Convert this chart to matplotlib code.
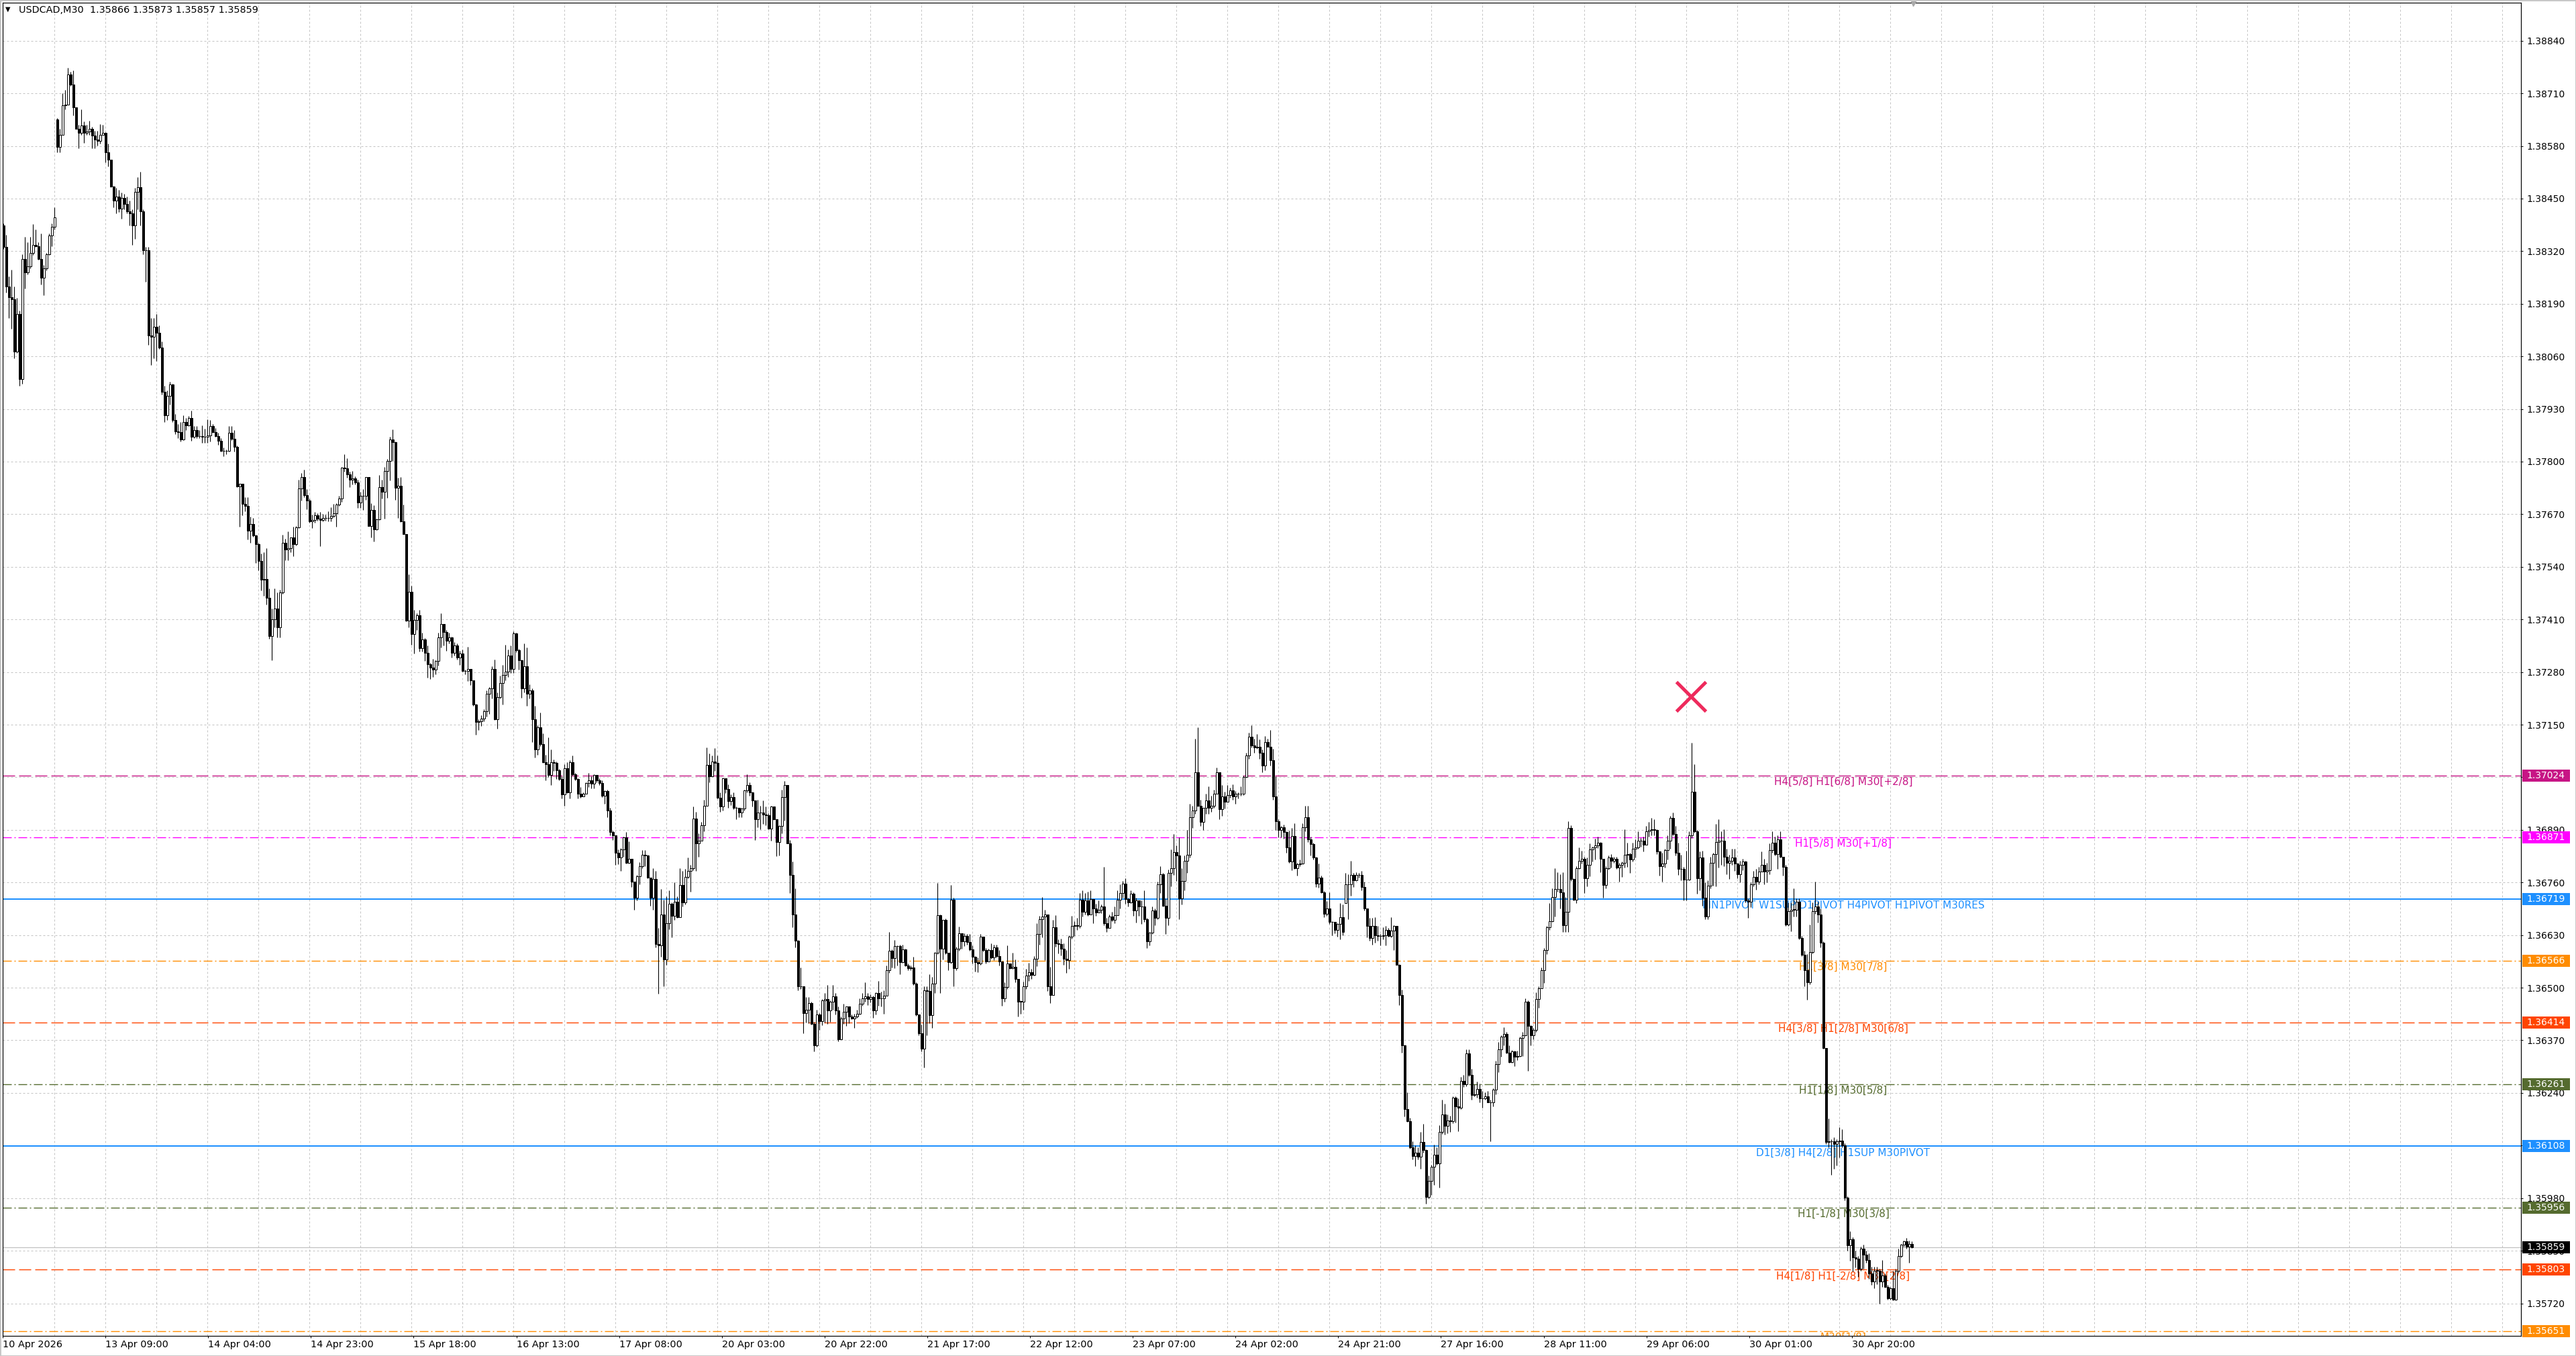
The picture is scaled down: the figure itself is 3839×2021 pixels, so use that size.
import numpy as np
import matplotlib
matplotlib.use("Agg")
from matplotlib import pyplot as plt
from matplotlib.patches import Rectangle
from matplotlib.transforms import blended_transform_factory

plt.rcParams['font.family'] = ['DejaVu Sans']
plt.rcParams['lines.scale_dashes'] = False

W, H, DPI = 3839, 2021, 100
PX = 72.0 / DPI          # one screen pixel in points

# prices are stored in points above BASE (1 point = 0.00001)
BASE = 1.35
POINT = 0.00001

# ---- USDCAD M30 candles ----
closes = [
    3330, 3233, 3206, 3202, 3072, 3165, 3004, 3301, 3267, 3282,
    3316, 3335, 3332, 3301, 3254, 3277, 3313, 3359, 3381, 3403,
    3578, 3608, 3680, 3682, 3756, 3731, 3676, 3622, 3612, 3630,
    3612, 3615, 3622, 3605, 3595, 3593, 3608, 3612, 3564, 3546,
    3479, 3445, 3455, 3425, 3452, 3437, 3418, 3413, 3384, 3466,
    3478, 3418, 3322, 3322, 3111, 3108, 3133, 3118, 3082, 2972,
    2914, 2962, 2990, 2902, 2875, 2873, 2855, 2897, 2890, 2907,
    2861, 2878, 2863, 2863, 2861, 2861, 2865, 2888, 2873, 2863,
    2851, 2826, 2826, 2826, 2871, 2856, 2836, 2739, 2746, 2695,
    2690, 2630, 2646, 2618, 2596, 2554, 2508, 2510, 2464, 2369,
    2411, 2437, 2391, 2476, 2599, 2583, 2586, 2612, 2596, 2637,
    2734, 2761, 2717, 2703, 2652, 2656, 2667, 2659, 2656, 2661,
    2661, 2661, 2666, 2672, 2694, 2709, 2785, 2783, 2768, 2756,
    2758, 2749, 2699, 2715, 2715, 2761, 2641, 2680, 2633, 2658,
    2737, 2726, 2777, 2802, 2855, 2848, 2735, 2741, 2652, 2621,
    2407, 2478, 2374, 2408, 2421, 2339, 2361, 2328, 2300, 2291,
    2286, 2307, 2366, 2399, 2379, 2358, 2366, 2328, 2345, 2315,
    2326, 2283, 2283, 2288, 2259, 2199, 2156, 2159, 2165, 2183,
    2226, 2239, 2288, 2163, 2218, 2253, 2273, 2281, 2320, 2288,
    2375, 2334, 2310, 2239, 2294, 2227, 2235, 2164, 2088, 2144,
    2102, 2057, 2053, 2026, 2057, 2055, 2038, 2015, 1977, 2043,
    1983, 2057, 2027, 2015, 1980, 1972, 1980, 2005, 2012, 2004,
    2026, 2013, 2005, 1975, 1986, 1938, 1884, 1876, 1833, 1822,
    1841, 1872, 1808, 1818, 1762, 1723, 1775, 1801, 1828, 1827,
    1772, 1723, 1768, 1608, 1605, 1681, 1569, 1660, 1708, 1677,
    1713, 1674, 1754, 1710, 1774, 1789, 1795, 1918, 1856, 1864,
    1902, 1949, 2050, 2022, 2058, 2056, 1970, 1947, 2017, 1991,
    1961, 1971, 1944, 1944, 1932, 1942, 1987, 2001, 1983, 1962,
    1917, 1932, 1932, 1928, 1926, 1893, 1948, 1917, 1860, 1899,
    1971, 2001, 1857, 1778, 1681, 1616, 1503, 1503, 1437, 1446,
    1462, 1410, 1357, 1433, 1417, 1468, 1472, 1443, 1466, 1479,
    1443, 1373, 1424, 1441, 1453, 1428, 1423, 1428, 1436, 1460,
    1473, 1479, 1472, 1477, 1443, 1487, 1473, 1473, 1481, 1544,
    1591, 1573, 1603, 1603, 1563, 1594, 1554, 1549, 1550, 1510,
    1433, 1388, 1349, 1494, 1492, 1432, 1510, 1586, 1679, 1597,
    1667, 1586, 1563, 1717, 1549, 1597, 1634, 1614, 1627, 1613,
    1595, 1576, 1563, 1560, 1626, 1593, 1564, 1593, 1574, 1600,
    1578, 1564, 1473, 1502, 1560, 1549, 1551, 1521, 1466, 1466,
    1504, 1530, 1538, 1532, 1572, 1632, 1670, 1676, 1680, 1503,
    1482, 1650, 1610, 1608, 1596, 1572, 1568, 1626, 1652, 1654,
    1652, 1717, 1687, 1715, 1680, 1719, 1695, 1685, 1693, 1700,
    1659, 1647, 1676, 1667, 1679, 1717, 1734, 1757, 1719, 1711,
    1733, 1691, 1715, 1701, 1701, 1670, 1615, 1636, 1691, 1672,
    1755, 1781, 1702, 1672, 1783, 1796, 1835, 1827, 1720, 1763,
    1813, 1828, 1922, 1938, 2032, 1949, 1910, 1944, 1962, 1944,
    1949, 1979, 2032, 1941, 1973, 1960, 1976, 1987, 1973, 1980,
    1979, 1980, 2021, 2073, 2121, 2098, 2094, 2095, 2080, 2049,
    2107, 2096, 2062, 1972, 1912, 1890, 1896, 1884, 1847, 1811,
    1875, 1796, 1805, 1807, 1897, 1921, 1866, 1855, 1821, 1757,
    1772, 1735, 1682, 1695, 1662, 1662, 1643, 1657, 1674, 1637,
    1755, 1756, 1779, 1765, 1779, 1779, 1748, 1696, 1652, 1623,
    1652, 1629, 1628, 1628, 1629, 1642, 1628, 1641, 1652, 1557,
    1482, 1357, 1200, 1170, 1105, 1084, 1093, 1082, 1119, 1099,
    983, 1023, 1057, 1088, 1065, 1144, 1187, 1158, 1171, 1170,
    1228, 1206, 1204, 1270, 1262, 1337, 1285, 1234, 1236, 1250,
    1226, 1226, 1231, 1217, 1217, 1248, 1311, 1348, 1379, 1385,
    1339, 1316, 1342, 1329, 1331, 1375, 1383, 1466, 1405, 1383,
    1396, 1472, 1499, 1543, 1593, 1649, 1665, 1724, 1744, 1744,
    1735, 1655, 1687, 1895, 1768, 1718, 1796, 1813, 1819, 1770,
    1803, 1842, 1847, 1851, 1859, 1819, 1754, 1796, 1822, 1814,
    1819, 1797, 1804, 1809, 1828, 1830, 1817, 1843, 1846, 1863,
    1863, 1853, 1886, 1889, 1892, 1889, 1836, 1801, 1807, 1840,
    1863, 1919, 1880, 1833, 1794, 1794, 1767, 1767, 1876, 1984,
    1886, 1771, 1821, 1722, 1676, 1752, 1809, 1830, 1860, 1863,
    1863, 1824, 1809, 1814, 1821, 1807, 1781, 1804, 1811, 1715,
    1712, 1755, 1774, 1762, 1787, 1804, 1787, 1790, 1840, 1858,
    1830, 1866, 1824, 1799, 1656, 1689, 1693, 1693, 1712, 1622,
    1581, 1543, 1514, 1588, 1689, 1701, 1681, 1612, 1351, 1118,
    1120, 1120, 1113, 1120, 1122, 1111, 981, 863, 879, 833,
    830, 806, 855, 840, 827, 794, 774, 801, 801, 774,
    788, 761, 732, 757, 729, 801, 837, 865, 873, 860,
    866, 859,
]

highs = [
    3389, 3361, 3257, 3274, 3233, 3204, 3173, 3313, 3355, 3342,
    3355, 3387, 3374, 3342, 3364, 3286, 3316, 3364, 3389, 3428,
    3648, 3622, 3710, 3719, 3773, 3763, 3766, 3673, 3632, 3671,
    3640, 3632, 3642, 3627, 3617, 3617, 3634, 3632, 3614, 3585,
    3546, 3481, 3476, 3471, 3464, 3462, 3455, 3445, 3423, 3476,
    3503, 3517, 3423, 3330, 3330, 3155, 3155, 3165, 3136, 3097,
    2988, 2975, 2998, 2993, 2917, 2892, 2897, 2914, 2907, 2912,
    2926, 2888, 2888, 2878, 2890, 2881, 2904, 2902, 2892, 2883,
    2871, 2858, 2834, 2829, 2888, 2888, 2878, 2839, 2746, 2746,
    2712, 2712, 2664, 2661, 2620, 2599, 2573, 2576, 2586, 2486,
    2437, 2486, 2476, 2484, 2620, 2610, 2628, 2612, 2639, 2641,
    2756, 2771, 2780, 2732, 2708, 2669, 2676, 2673, 2676, 2671,
    2669, 2678, 2688, 2696, 2697, 2715, 2786, 2818, 2808, 2775,
    2777, 2764, 2756, 2726, 2732, 2762, 2761, 2697, 2692, 2659,
    2767, 2755, 2786, 2807, 2862, 2880, 2850, 2760, 2761, 2694,
    2621, 2521, 2493, 2434, 2426, 2434, 2377, 2364, 2345, 2302,
    2313, 2310, 2377, 2426, 2385, 2383, 2377, 2367, 2354, 2351,
    2332, 2335, 2286, 2343, 2288, 2260, 2201, 2164, 2173, 2188,
    2234, 2243, 2294, 2311, 2229, 2271, 2297, 2347, 2335, 2345,
    2380, 2377, 2337, 2311, 2351, 2340, 2250, 2239, 2197, 2148,
    2180, 2129, 2075, 2118, 2088, 2064, 2059, 2040, 2023, 2053,
    2057, 2062, 2074, 2031, 2018, 1996, 1983, 2007, 2031, 2023,
    2027, 2026, 2017, 2013, 1988, 1990, 1944, 1888, 1872, 1841,
    1845, 1873, 1885, 1861, 1819, 1762, 1778, 1810, 1840, 1840,
    1828, 1772, 1795, 1788, 1647, 1744, 1717, 1725, 1740, 1711,
    1761, 1725, 1795, 1789, 1794, 1822, 1804, 1947, 1934, 1882,
    1909, 1965, 2094, 2079, 2074, 2092, 2074, 1982, 2019, 2017,
    2002, 1977, 1982, 1947, 1945, 1945, 1989, 2028, 2008, 1985,
    1954, 1965, 1949, 1962, 1947, 1931, 1949, 1948, 1917, 1901,
    1989, 2011, 1982, 1865, 1812, 1745, 1617, 1550, 1500, 1477,
    1477, 1466, 1415, 1445, 1437, 1472, 1487, 1506, 1469, 1506,
    1487, 1453, 1428, 1460, 1454, 1453, 1434, 1436, 1445, 1474,
    1487, 1513, 1487, 1483, 1480, 1489, 1517, 1490, 1494, 1555,
    1637, 1595, 1618, 1605, 1607, 1607, 1597, 1559, 1554, 1576,
    1513, 1434, 1409, 1503, 1504, 1534, 1526, 1588, 1759, 1681,
    1668, 1671, 1586, 1754, 1723, 1601, 1651, 1634, 1634, 1632,
    1632, 1604, 1578, 1575, 1632, 1626, 1598, 1597, 1610, 1607,
    1606, 1593, 1565, 1513, 1604, 1558, 1587, 1569, 1521, 1468,
    1515, 1546, 1561, 1546, 1578, 1659, 1678, 1724, 1693, 1681,
    1551, 1668, 1679, 1619, 1621, 1610, 1593, 1629, 1678, 1665,
    1672, 1734, 1741, 1734, 1737, 1740, 1716, 1707, 1715, 1706,
    1798, 1672, 1680, 1687, 1700, 1740, 1755, 1764, 1770, 1723,
    1740, 1735, 1723, 1713, 1716, 1741, 1673, 1637, 1701, 1695,
    1762, 1800, 1784, 1720, 1792, 1842, 1879, 1851, 1871, 1795,
    1827, 1890, 1954, 1950, 2115, 2143, 1964, 1945, 1980, 1997,
    1975, 1990, 2044, 2023, 2000, 1984, 2000, 1994, 2002, 1986,
    1983, 1997, 2024, 2081, 2130, 2148, 2115, 2127, 2113, 2088,
    2122, 2115, 2137, 2091, 2023, 1917, 1899, 1903, 1886, 1888,
    1895, 1906, 1809, 1816, 1906, 1950, 1950, 1873, 1859, 1824,
    1807, 1777, 1739, 1714, 1735, 1665, 1662, 1659, 1709, 1706,
    1783, 1781, 1813, 1783, 1785, 1783, 1788, 1762, 1696, 1672,
    1672, 1675, 1652, 1632, 1650, 1652, 1647, 1674, 1655, 1649,
    1558, 1495, 1359, 1241, 1178, 1121, 1110, 1106, 1143, 1164,
    1101, 1036, 1062, 1112, 1105, 1160, 1223, 1213, 1187, 1183,
    1232, 1231, 1226, 1280, 1285, 1347, 1348, 1300, 1262, 1268,
    1263, 1244, 1242, 1244, 1223, 1252, 1320, 1366, 1383, 1403,
    1390, 1357, 1346, 1344, 1344, 1379, 1390, 1473, 1468, 1407,
    1400, 1488, 1503, 1550, 1598, 1652, 1709, 1746, 1796, 1785,
    1781, 1786, 1724, 1912, 1901, 1770, 1800, 1847, 1838, 1824,
    1822, 1857, 1849, 1868, 1873, 1860, 1819, 1801, 1826, 1830,
    1824, 1824, 1809, 1811, 1892, 1858, 1833, 1858, 1866, 1886,
    1870, 1873, 1899, 1909, 1919, 1917, 1892, 1838, 1833, 1843,
    1876, 1925, 1932, 1899, 1858, 1828, 1799, 1838, 1887, 2106,
    2053, 1889, 1836, 1838, 1760, 1765, 1824, 1833, 1905, 1917,
    1887, 1892, 1843, 1828, 1843, 1843, 1809, 1814, 1819, 1814,
    1720, 1760, 1789, 1794, 1799, 1836, 1819, 1809, 1856, 1887,
    1873, 1876, 1887, 1824, 1804, 1710, 1710, 1745, 1720, 1720,
    1627, 1592, 1583, 1656, 1710, 1762, 1712, 1696, 1614, 1351,
    1177, 1125, 1130, 1125, 1155, 1150, 1116, 985, 899, 884,
    850, 837, 860, 865, 850, 843, 811, 811, 811, 806,
    827, 794, 766, 761, 801, 806, 855, 867, 875, 882,
    875, 873,
]

lows = [
    3325, 3218, 3155, 3128, 3055, 3068, 2988, 2992, 3228, 3262,
    3277, 3311, 3330, 3299, 3238, 3211, 3272, 3311, 3332, 3374,
    3564, 3564, 3608, 3671, 3682, 3729, 3656, 3622, 3575, 3608,
    3588, 3608, 3608, 3575, 3575, 3581, 3585, 3608, 3539, 3530,
    3478, 3429, 3413, 3416, 3400, 3423, 3413, 3384, 3335, 3350,
    3423, 3384, 3313, 3245, 3089, 3038, 3056, 3048, 3079, 2965,
    2897, 2902, 2941, 2897, 2868, 2858, 2849, 2853, 2878, 2888,
    2852, 2858, 2858, 2858, 2846, 2846, 2846, 2849, 2871, 2861,
    2842, 2824, 2813, 2819, 2824, 2853, 2824, 2737, 2639, 2667,
    2678, 2608, 2600, 2615, 2550, 2532, 2482, 2469, 2447, 2362,
    2309, 2391, 2365, 2365, 2474, 2557, 2557, 2576, 2566, 2593,
    2635, 2703, 2712, 2683, 2649, 2635, 2649, 2654, 2591, 2652,
    2654, 2652, 2652, 2662, 2639, 2691, 2701, 2775, 2760, 2737,
    2743, 2743, 2686, 2686, 2681, 2705, 2640, 2612, 2602, 2631,
    2656, 2709, 2659, 2710, 2753, 2802, 2705, 2660, 2650, 2621,
    2405, 2391, 2348, 2326, 2383, 2330, 2330, 2307, 2266, 2262,
    2267, 2275, 2296, 2340, 2345, 2332, 2351, 2315, 2320, 2311,
    2297, 2281, 2275, 2258, 2248, 2197, 2125, 2137, 2146, 2158,
    2170, 2177, 2215, 2161, 2140, 2215, 2199, 2259, 2267, 2278,
    2277, 2329, 2286, 2216, 2229, 2197, 2215, 2107, 2069, 2076,
    2097, 2055, 2013, 2021, 2000, 2036, 2015, 2012, 1967, 1949,
    1981, 1968, 2024, 2013, 1968, 1970, 1977, 1979, 1996, 1993,
    1993, 2008, 2001, 1971, 1954, 1922, 1876, 1865, 1803, 1805,
    1789, 1823, 1807, 1807, 1748, 1693, 1715, 1756, 1796, 1800,
    1770, 1703, 1692, 1599, 1485, 1577, 1503, 1557, 1644, 1624,
    1668, 1673, 1674, 1700, 1705, 1770, 1738, 1791, 1788, 1824,
    1871, 1886, 1961, 2008, 2029, 2036, 1968, 1934, 1937, 1981,
    1945, 1951, 1941, 1917, 1922, 1922, 1937, 1982, 1974, 1948,
    1865, 1897, 1892, 1905, 1902, 1891, 1864, 1915, 1825, 1827,
    1881, 1913, 1856, 1734, 1650, 1599, 1494, 1497, 1388, 1414,
    1413, 1409, 1342, 1355, 1396, 1407, 1414, 1410, 1416, 1446,
    1433, 1367, 1382, 1410, 1405, 1412, 1422, 1401, 1426, 1434,
    1456, 1466, 1457, 1463, 1426, 1433, 1456, 1454, 1436, 1480,
    1536, 1550, 1549, 1554, 1534, 1561, 1553, 1544, 1543, 1506,
    1430, 1382, 1343, 1302, 1383, 1412, 1400, 1487, 1583, 1487,
    1570, 1583, 1543, 1559, 1503, 1544, 1591, 1597, 1603, 1607,
    1591, 1560, 1540, 1538, 1557, 1589, 1560, 1564, 1571, 1568,
    1574, 1554, 1456, 1466, 1496, 1547, 1546, 1514, 1429, 1435,
    1446, 1497, 1517, 1521, 1530, 1553, 1607, 1624, 1568, 1491,
    1462, 1482, 1601, 1585, 1579, 1557, 1536, 1547, 1621, 1628,
    1643, 1648, 1676, 1681, 1678, 1698, 1659, 1678, 1687, 1684,
    1655, 1637, 1647, 1665, 1659, 1679, 1695, 1722, 1707, 1701,
    1709, 1678, 1661, 1678, 1658, 1663, 1598, 1604, 1633, 1654,
    1669, 1734, 1700, 1632, 1654, 1750, 1778, 1764, 1669, 1705,
    1741, 1783, 1821, 1894, 1930, 1947, 1900, 1890, 1929, 1930,
    1934, 1945, 1979, 1917, 1925, 1943, 1964, 1969, 1964, 1955,
    1967, 1975, 1976, 2019, 2065, 2093, 2080, 2091, 2065, 2033,
    2037, 2095, 2049, 1965, 1889, 1872, 1872, 1868, 1834, 1809,
    1790, 1793, 1777, 1801, 1805, 1886, 1860, 1826, 1816, 1748,
    1747, 1734, 1675, 1678, 1657, 1629, 1634, 1626, 1619, 1629,
    1709, 1670, 1727, 1748, 1763, 1772, 1741, 1691, 1624, 1616,
    1606, 1611, 1616, 1604, 1619, 1604, 1626, 1624, 1593, 1556,
    1457, 1339, 1182, 1169, 1103, 1075, 1059, 1075, 1053, 1092,
    967, 980, 987, 1013, 1062, 1006, 1139, 1137, 1141, 1144,
    1165, 1167, 1145, 1200, 1255, 1257, 1282, 1224, 1232, 1228,
    1216, 1204, 1223, 1216, 1121, 1206, 1237, 1291, 1329, 1357,
    1337, 1314, 1314, 1306, 1321, 1329, 1331, 1380, 1295, 1357,
    1372, 1390, 1451, 1498, 1512, 1583, 1642, 1663, 1676, 1737,
    1695, 1637, 1637, 1637, 1763, 1716, 1709, 1793, 1807, 1734,
    1750, 1775, 1811, 1817, 1845, 1786, 1722, 1746, 1792, 1797,
    1809, 1794, 1762, 1774, 1797, 1799, 1784, 1811, 1821, 1843,
    1848, 1836, 1853, 1873, 1876, 1876, 1830, 1777, 1762, 1797,
    1817, 1843, 1876, 1826, 1779, 1765, 1715, 1715, 1765, 1870,
    1883, 1732, 1740, 1703, 1669, 1669, 1745, 1752, 1750, 1797,
    1804, 1801, 1781, 1769, 1804, 1789, 1771, 1760, 1791, 1710,
    1673, 1699, 1750, 1742, 1755, 1787, 1755, 1760, 1781, 1833,
    1826, 1794, 1821, 1777, 1653, 1653, 1640, 1676, 1676, 1620,
    1578, 1504, 1470, 1509, 1585, 1683, 1661, 1600, 1349, 1113,
    1106, 1037, 1052, 1061, 1081, 1106, 975, 850, 825, 798,
    808, 786, 801, 806, 820, 781, 766, 757, 768, 719,
    761, 759, 729, 729, 727, 727, 796, 833, 860, 855,
    820, 857,
]

# opens that differ from the previous close (first bar, weekend gaps)
gap_opens = {0: 3384, 20: 3646, 500: 1709}

header_text = 'USDCAD,M30  1.35866 1.35873 1.35857 1.35859'
bid_price = 1.35859

time_labels = ['10 Apr 2026', '13 Apr 09:00', '14 Apr 04:00', '14 Apr 23:00',
               '15 Apr 18:00', '16 Apr 13:00', '17 Apr 08:00', '20 Apr 03:00',
               '20 Apr 22:00', '21 Apr 17:00', '22 Apr 12:00', '23 Apr 07:00',
               '24 Apr 02:00', '24 Apr 21:00', '27 Apr 16:00', '28 Apr 11:00',
               '29 Apr 06:00', '30 Apr 01:00', '30 Apr 20:00']

price_ticks = [1.38840, 1.38710, 1.38580, 1.38450, 1.38320, 1.38190, 1.38060,
               1.37930, 1.37800, 1.37670, 1.37540, 1.37410, 1.37280, 1.37150,
               1.37020, 1.36890, 1.36760, 1.36630, 1.36500, 1.36370, 1.36240,
               1.36110, 1.35980, 1.35850, 1.35720]

level_prices = [1.37024, 1.36871, 1.36719, 1.36566, 1.36414,
                1.36261, 1.36108, 1.35956, 1.35803, 1.35651]
level_texts = ['H4[5/8] H1[6/8] M30[+2/8]',
               'H1[5/8] M30[+1/8]',
               'MN1PIVOT W1SUP D1PIVOT H4PIVOT H1PIVOT M30RES',
               'H1[3/8] M30[7/8]',
               'H4[3/8] H1[2/8] M30[6/8]',
               'H1[1/8] M30[5/8]',
               'D1[3/8] H4[2/8] H1SUP M30PIVOT',
               'H1[-1/8] M30[3/8]',
               'H4[1/8] H1[-2/8] M30[2/8]',
               'M30[1/8]']
level_colors = ['#C71585', '#FF00FF', '#1E90FF', '#FF8C00', '#FF4500',
                '#556B2F', '#1E90FF', '#556B2F', '#FF4500', '#FF8C00']
level_kinds = ['dash', 'dashdot', 'solid', 'dashdot', 'dash',
               'dashdot', 'solid', 'dashdot', 'dash', 'dashdot']

cross_bar = 628.6
cross_price = 1.37219

# ---- layout ----
line_styles = {
    'dash': (0, (18 * PX, 6 * PX)),
    'dashdot': (0, (13 * PX, 4 * PX, 2 * PX, 4 * PX)),
    'solid': '-',
}
label_step = 38.275        # bars between time labels
grid_step = 19             # bars between vertical grid lines
level_label_x = 685.4      # centre of the level captions, in bars

fig = plt.figure(figsize=(W / DPI, H / DPI), dpi=DPI)
fig.patch.set_facecolor('white')
ax = fig.add_axes([4 / W, 30 / H, 3753 / W, 1987 / H])
ax.set_xlim(-0.375, 937.9)
ax.set_ylim(1.356396, 1.389340)

for s in ax.spines.values():
    s.set_color('black')
    s.set_linewidth(1.2 * PX)

# grid
ax.set_yticks(price_ticks)
ax.set_yticklabels(['%.5f' % p for p in price_ticks])
ax.yaxis.tick_right()
ax.set_xticks([label_step * k - 0.35 for k in range(len(time_labels))])
ax.set_xticklabels(time_labels)
for t in ax.get_xticklabels():
    t.set_horizontalalignment('left')
ax.set_xticks(np.arange(grid_step, 938, grid_step), minor=True)
ax.tick_params(axis='x', which='minor', length=0)
ax.tick_params(axis='both', which='major', direction='out', length=3 * PX,
               width=1 * PX, colors='black', labelsize=10)
ax.tick_params(axis='y', pad=5 * PX)
ax.tick_params(axis='x', pad=3 * PX, labelsize=10.4)
grid_kw = dict(color='#C3C3C3', linewidth=1 * PX, linestyle=(0, (3 * PX, 3 * PX)))
ax.grid(True, which='major', axis='y', **grid_kw)
ax.grid(True, which='minor', axis='x', **grid_kw)
ax.grid(False, which='major', axis='x')
ax.set_axisbelow(True)

# level lines, captions and price boxes
tr = blended_transform_factory(ax.transAxes, ax.transData)
box_w = 71 / 3753
box_h = 18 * (1.389340 - 1.356396) / 1987
for price, text, col, kind in zip(level_prices, level_texts, level_colors, level_kinds):
    lw = 2 * PX if kind == 'solid' else 1.4 * PX
    ax.axhline(price, color=col, linewidth=lw, linestyle=line_styles[kind], zorder=1.8)
    ax.annotate(text, xy=(level_label_x, price), xytext=(0, -2 * PX),
                textcoords='offset points', ha='center', va='top',
                color=col, fontsize=11, zorder=2.2, annotation_clip=False,
                clip_on=True)
    ax.add_patch(Rectangle((1.0005, price - box_h / 2), box_w, box_h, transform=tr,
                           facecolor=col, edgecolor='none', clip_on=False, zorder=10))
    ax.text(1.0005 + 7 / 3753, price, '%.5f' % price, transform=tr, color='white',
            fontsize=10, ha='left', va='center', clip_on=False, zorder=11)

# bid line
ax.axhline(bid_price, color='#C0C0C0', linewidth=1.2 * PX, zorder=1.7)
ax.add_patch(Rectangle((1.0005, bid_price - box_h / 2), box_w, box_h, transform=tr,
                       facecolor='black', edgecolor='none', clip_on=False, zorder=12))
ax.text(1.0005 + 7 / 3753, bid_price, '%.5f' % bid_price, transform=tr, color='white',
        fontsize=10, ha='left', va='center', clip_on=False, zorder=13)

# candles
n = min(len(closes), len(highs), len(lows))
c = BASE + np.array(closes[:n]) * POINT
o = np.empty(n)
o[1:] = c[:-1]
o[0] = c[0]
for i, v in gap_opens.items():
    if i < n:
        o[i] = BASE + v * POINT
h = np.maximum(BASE + np.array(highs[:n]) * POINT, np.maximum(o, c))
lo = np.minimum(BASE + np.array(lows[:n]) * POINT, np.minimum(o, c))
x = np.arange(n)
up = c >= o
body = np.maximum(np.abs(c - o), 0.3 * POINT)
ax.vlines(x, lo, h, color='black', linewidth=1.1 * PX, zorder=3)
ax.bar(x[up], body[up], bottom=o[up], width=0.6, color='white',
       edgecolor='black', linewidth=1 * PX, zorder=4)
ax.bar(x[~up], body[~up], bottom=c[~up], width=0.6, color='black',
       edgecolor='black', linewidth=1 * PX, zorder=4)

# marker drawn on the chart
ax.plot([cross_bar], [cross_price], marker='x', markersize=44 * PX,
        markeredgewidth=5 * PX, color='#EE2A5C', zorder=6)

# chart-shift triangle at the top
ax.plot([n - 0.5], [1.0], marker='v', markersize=9 * PX, color='#A8A8A8',
        transform=blended_transform_factory(ax.transData, ax.transAxes),
        clip_on=False, zorder=12)

# header
fig.text(8 / W, 1 - 9 / H, '\u25BC', fontsize=7, va='top', ha='left', color='black')
fig.text(28 / W, 1 - 8 / H, header_text, fontsize=10.4, va='top', ha='left', color='black')

# window frame
fig.add_artist(Rectangle((0, 0), 1, 1, transform=fig.transFigure, fill=False,
                         edgecolor='#C8C8C8', linewidth=3 * PX))

fig.savefig('out.png', dpi=DPI, facecolor='white')
